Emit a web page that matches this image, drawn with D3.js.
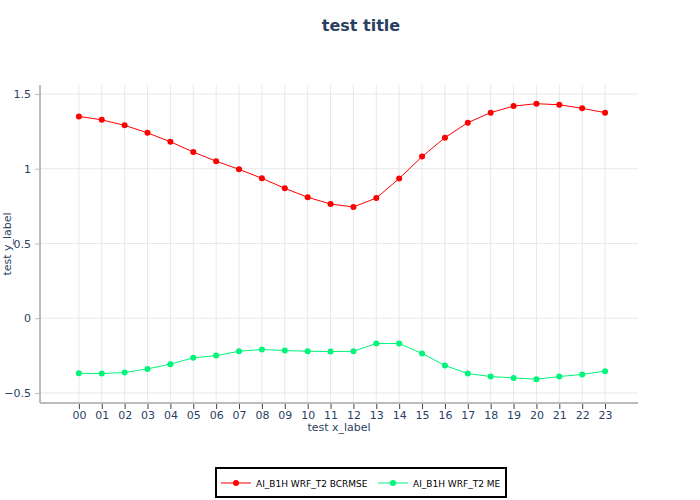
<!DOCTYPE html>
<html>
<head>
<meta charset="utf-8">
<script src="https://cdn.jsdelivr.net/npm/d3@7"></script>
<style>
  body { margin: 0; background: #fff; }
  svg { font-family: "DejaVu Sans", Verdana, sans-serif; }
</style>
</head>
<body>
<div id="chart"></div>
<script>
// chart data
var hours = ["00","01","02","03","04","05","06","07","08","09","10","11",
             "12","13","14","15","16","17","18","19","20","21","22","23"];
var bcrmse = [1.35, 1.327, 1.29, 1.24, 1.18, 1.112, 1.05, 0.996, 0.936, 0.869, 0.809, 0.764,
              0.744, 0.804, 0.934, 1.081, 1.208, 1.308, 1.375, 1.419, 1.435, 1.428, 1.404, 1.375];
var me = [-0.368, -0.370, -0.363, -0.339, -0.307, -0.265, -0.250, -0.221, -0.209, -0.216, -0.221, -0.223,
          -0.221, -0.169, -0.169, -0.236, -0.316, -0.370, -0.390, -0.399, -0.408, -0.390, -0.376, -0.354];
var yTicks = [-0.5, 0, 0.5, 1, 1.5];
var seriesNames = ["AI_B1H WRF_T2 BCRMSE", "AI_B1H WRF_T2 ME"];
var seriesColors = ["#ff0000", "#00f57a"];

var width = 700, height = 500;
var plotLeft = 40, plotRight = 638, plotTop = 85, plotBottom = 403;
var textColor = "#2a3f5f";

var svg = d3.select("#chart").append("svg")
    .attr("width", width)
    .attr("height", height);

var x = d3.scaleLinear()
    .domain([-1.7, 24.44])
    .range([plotLeft, plotRight]);

var y = d3.scaleLinear()
    .domain([-0.567, 1.56])
    .range([plotBottom, plotTop]);

// grid
svg.append("g").selectAll("line")
    .data(hours)
    .enter().append("line")
    .attr("x1", function (d, i) { return x(i); })
    .attr("x2", function (d, i) { return x(i); })
    .attr("y1", plotTop).attr("y2", plotBottom)
    .attr("stroke", "#e8e8e8").attr("stroke-width", 1);

svg.append("g").selectAll("line")
    .data(yTicks)
    .enter().append("line")
    .attr("x1", plotLeft).attr("x2", plotRight)
    .attr("y1", function (d) { return y(d); })
    .attr("y2", function (d) { return y(d); })
    .attr("stroke", "#e8e8e8").attr("stroke-width", 1);

// x axis
var xAxis = svg.append("g")
    .attr("transform", "translate(0," + plotBottom + ")")
    .call(d3.axisBottom(x)
        .tickValues(d3.range(hours.length))
        .tickFormat(function (i) { return hours[i]; })
        .tickSize(5)
        .tickPadding(3));
xAxis.select(".domain").attr("stroke", "#bbbbbb").attr("stroke-width", 2)
    .attr("d", "M" + plotLeft + ",0H" + plotRight);
xAxis.selectAll(".tick line").attr("stroke", "#444").attr("transform", "translate(0,1)");
xAxis.selectAll("text").attr("fill", textColor).style("font-size", "11px")
    .style("font-family", "DejaVu Sans, sans-serif");

// y axis
var yAxis = svg.append("g")
    .attr("transform", "translate(" + plotLeft + ",0)")
    .call(d3.axisLeft(y)
        .tickValues(yTicks)
        .tickFormat(function (d) { return d < 0 ? "\u2212" + Math.abs(d) : d; })
        .tickSize(5)
        .tickPadding(4));
yAxis.select(".domain").attr("stroke", "#bbbbbb").attr("stroke-width", 2)
    .attr("d", "M0," + plotTop + "V" + plotBottom);
yAxis.selectAll(".tick line").attr("stroke", "#bbbbbb");
yAxis.selectAll("text").attr("fill", textColor).style("font-size", "11px")
    .style("font-family", "DejaVu Sans, sans-serif");

// series
var line = d3.line()
    .x(function (d, i) { return x(i); })
    .y(function (d) { return y(d); });

[bcrmse, me].forEach(function (values, k) {
    svg.append("path")
        .datum(values)
        .attr("fill", "none")
        .attr("stroke", seriesColors[k])
        .attr("stroke-width", 1)
        .attr("d", line);
    svg.append("g").selectAll("circle")
        .data(values)
        .enter().append("circle")
        .attr("cx", function (d, i) { return x(i); })
        .attr("cy", function (d) { return y(d); })
        .attr("r", 3)
        .attr("fill", seriesColors[k]);
});

// title and labels
svg.append("text")
    .attr("x", 361).attr("y", 31)
    .attr("text-anchor", "middle")
    .attr("fill", textColor)
    .style("font-size", "16px").style("font-weight", "bold")
    .text("test title");

svg.append("text")
    .attr("x", (plotLeft + plotRight) / 2).attr("y", 431)
    .attr("text-anchor", "middle")
    .attr("fill", textColor)
    .style("font-size", "11px")
    .text("test x_label");

svg.append("text")
    .attr("transform", "translate(11," + ((plotTop + plotBottom) / 2) + ") rotate(-90)")
    .attr("text-anchor", "middle")
    .attr("fill", textColor)
    .style("font-size", "11px")
    .text("test y_label");

// legend
var legend = svg.append("g");
legend.append("rect")
    .attr("x", 216).attr("y", 468)
    .attr("width", 290).attr("height", 29)
    .attr("fill", "#fff").attr("stroke", "#000").attr("stroke-width", 2);

var legendX = [221, 378];
seriesNames.forEach(function (name, k) {
    var g = legend.append("g").attr("transform", "translate(" + legendX[k] + ",483)");
    g.append("line").attr("x1", 0).attr("x2", 30).attr("y1", 0).attr("y2", 0)
        .attr("stroke", seriesColors[k]).attr("stroke-width", 1);
    g.append("circle").attr("cx", 15).attr("cy", 0).attr("r", 3).attr("fill", seriesColors[k]);
    g.append("text").attr("x", 35).attr("y", 3.5)
        .attr("fill", "#000").style("font-size", "9px")
        .text(name);
});
</script>
</body>
</html>
